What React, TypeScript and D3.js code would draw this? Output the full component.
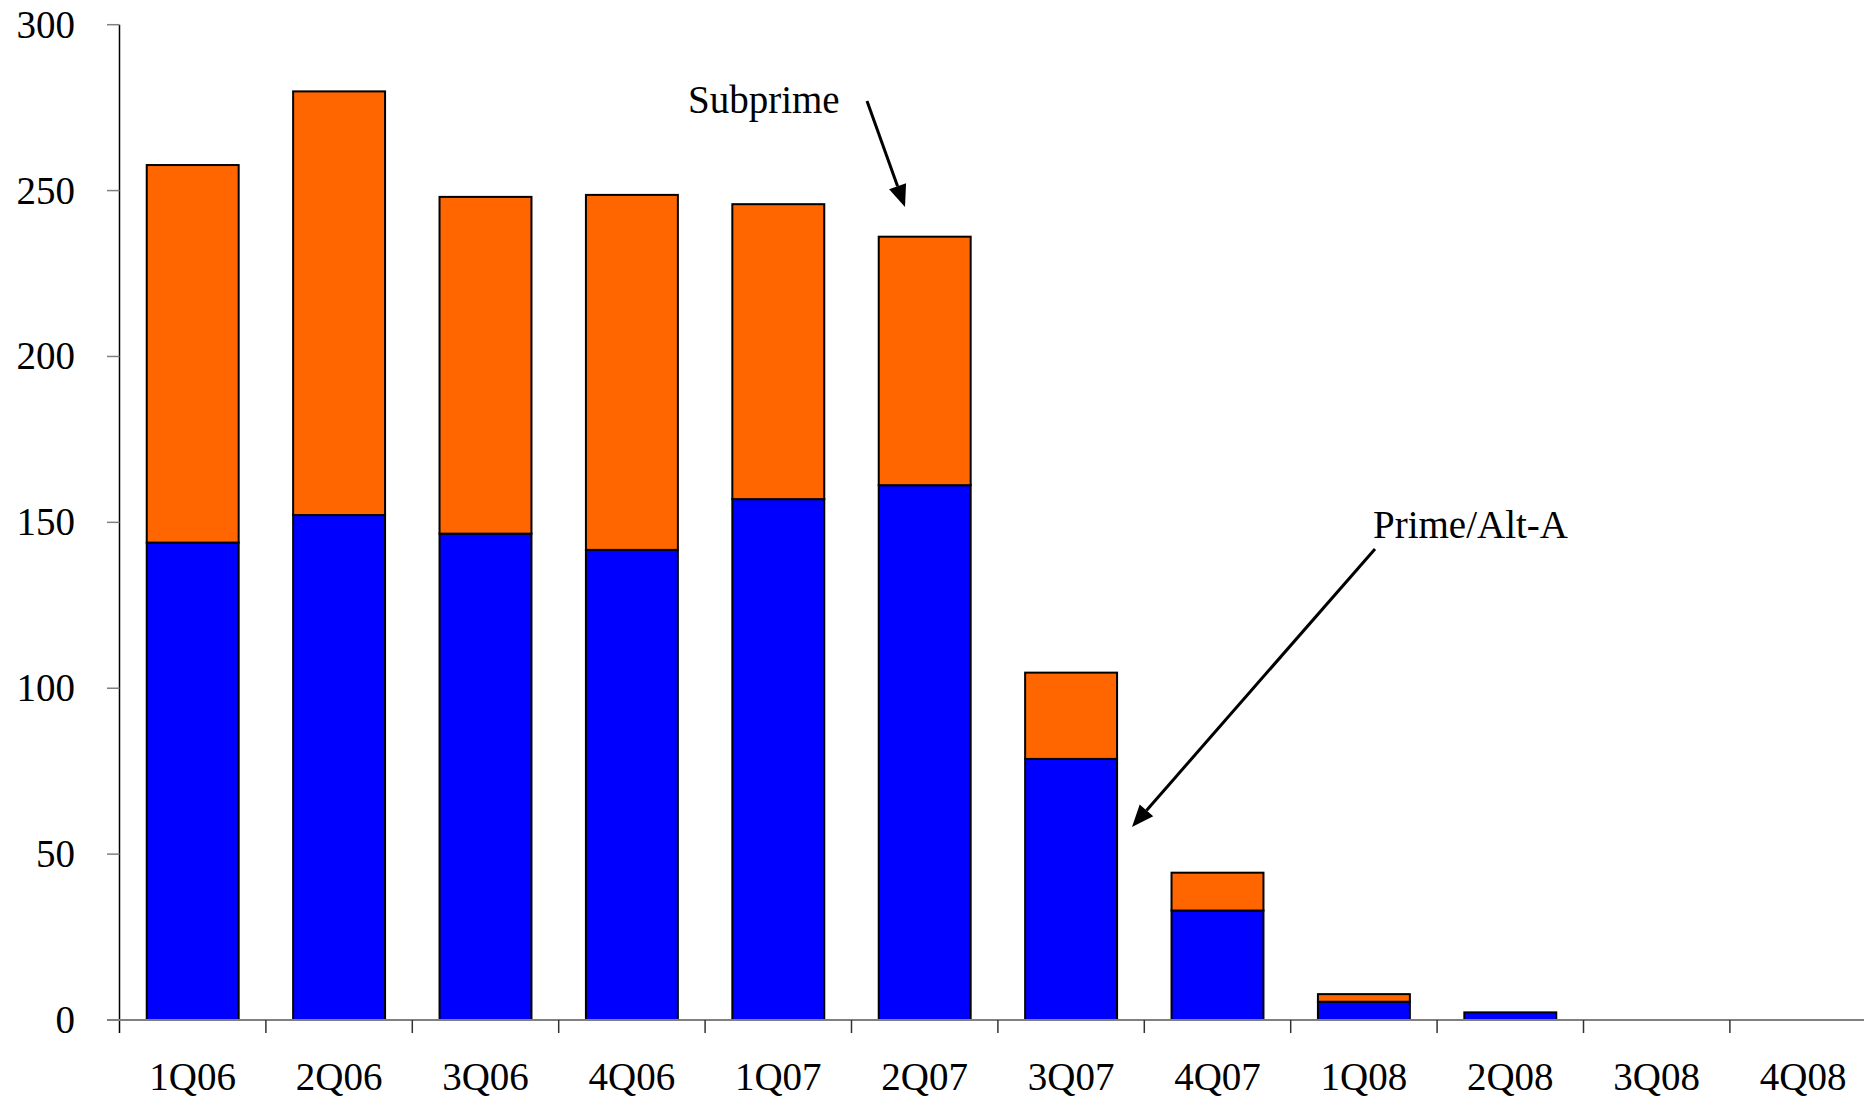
import React from "react";
import * as d3 from "d3";

// Quarterly issuance, stacked: Prime/Alt-A at the bottom, Subprime on top
const quarters = ["1Q06", "2Q06", "3Q06", "4Q06", "1Q07", "2Q07", "3Q07", "4Q07", "1Q08", "2Q08", "3Q08", "4Q08"];
const primeAltA = [143.9, 152.2, 146.6, 141.7, 157.0, 161.2, 78.7, 33.0, 5.5, 2.3, 0, 0];
const subprime = [113.8, 127.7, 101.5, 107.0, 88.9, 74.9, 26.0, 11.4, 2.3, 0, 0, 0];
const yTicks = [0, 50, 100, 150, 200, 250, 300];

const seriesKeys = ["prime", "subprime"] as const;
const seriesColors: Record<string, string> = { prime: "#0000FF", subprime: "#FF6600" };

const W = 1864;
const H = 1098;
const FONT = "'Liberation Serif', 'Times New Roman', serif";

export default function App() {
  const rows = quarters.map((q, i) => ({ q, prime: primeAltA[i], subprime: subprime[i] }));
  const stacked = d3.stack<any>().keys(seriesKeys as any)(rows);

  const x0 = 119.5;
  const step = 146.4;
  const x = d3
    .scaleBand<string>()
    .domain(quarters)
    .range([x0, x0 + step * quarters.length])
    .paddingInner(0.372)
    .paddingOuter(0.186);
  const y = d3.scaleLinear().domain([0, 300]).range([1020, 24.7]);

  const base = y(0);

  const arrow = (x1: number, y1: number, x2: number, y2: number, key: string) => {
    const ang = Math.atan2(y2 - y1, x2 - x1);
    const len = 22;
    const half = 9;
    const bx = x2 - len * Math.cos(ang);
    const by = y2 - len * Math.sin(ang);
    const px = -Math.sin(ang) * half;
    const py = Math.cos(ang) * half;
    return (
      <g key={key}>
        <line x1={x1} y1={y1} x2={bx} y2={by} stroke="#000" strokeWidth={3} />
        <path d={`M${x2},${y2}L${bx + px},${by + py}L${bx - px},${by - py}Z`} fill="#000" />
      </g>
    );
  };

  return (
    <svg
      width={W}
      height={H}
      style={{ position: "absolute", left: 0, top: 0, background: "#fff" }}
      fontFamily={FONT}
    >
      <rect x={0} y={0} width={W} height={H} fill="#fff" />

      {/* stacked bars */}
      {stacked.map((s) => (
        <g key={s.key}>
          {s.map((d, i) => {
            const h = y(d[0]) - y(d[1]);
            if (d[1] - d[0] <= 0) return null;
            return (
              <rect
                key={i}
                x={x(quarters[i])}
                y={y(d[1])}
                width={x.bandwidth()}
                height={h}
                fill={seriesColors[s.key]}
                stroke="#000"
                strokeWidth={2}
              />
            );
          })}
        </g>
      ))}

      {/* y axis */}
      <line x1={x0} y1={y(300)} x2={x0} y2={1033} stroke="#000" strokeWidth={1.5} />
      {yTicks.map((t) => (
        <g key={t}>
          <line x1={107} x2={x0} y1={y(t)} y2={y(t)} stroke="#808080" strokeWidth={1.5} />
          <text x={75} y={y(t) + 13} textAnchor="end" fontSize={39} fill="#000">
            {t}
          </text>
        </g>
      ))}

      {/* x axis */}
      <line x1={107} x2={W} y1={base} y2={base} stroke="#808080" strokeWidth={2} />
      {quarters.map((q, i) => {
        const bx = x0 + step * i;
        return (
          <g key={q}>
            {i > 0 && <line x1={bx} x2={bx} y1={base} y2={1033} stroke="#333" strokeWidth={1.5} />}
            <text
              x={(x(q) as number) + x.bandwidth() / 2}
              y={1090}
              textAnchor="middle"
              fontSize={39}
              fill="#000"
            >
              {q}
            </text>
          </g>
        );
      })}

      {/* annotations */}
      <text x={688} y={113} fontSize={39} fill="#000">
        Subprime
      </text>
      {arrow(867, 101, 905, 207, "sub")}
      <text x={1373} y={538} fontSize={39} fill="#000">
        Prime/Alt-A
      </text>
      {arrow(1375, 549, 1132, 827, "prime")}
    </svg>
  );
}
